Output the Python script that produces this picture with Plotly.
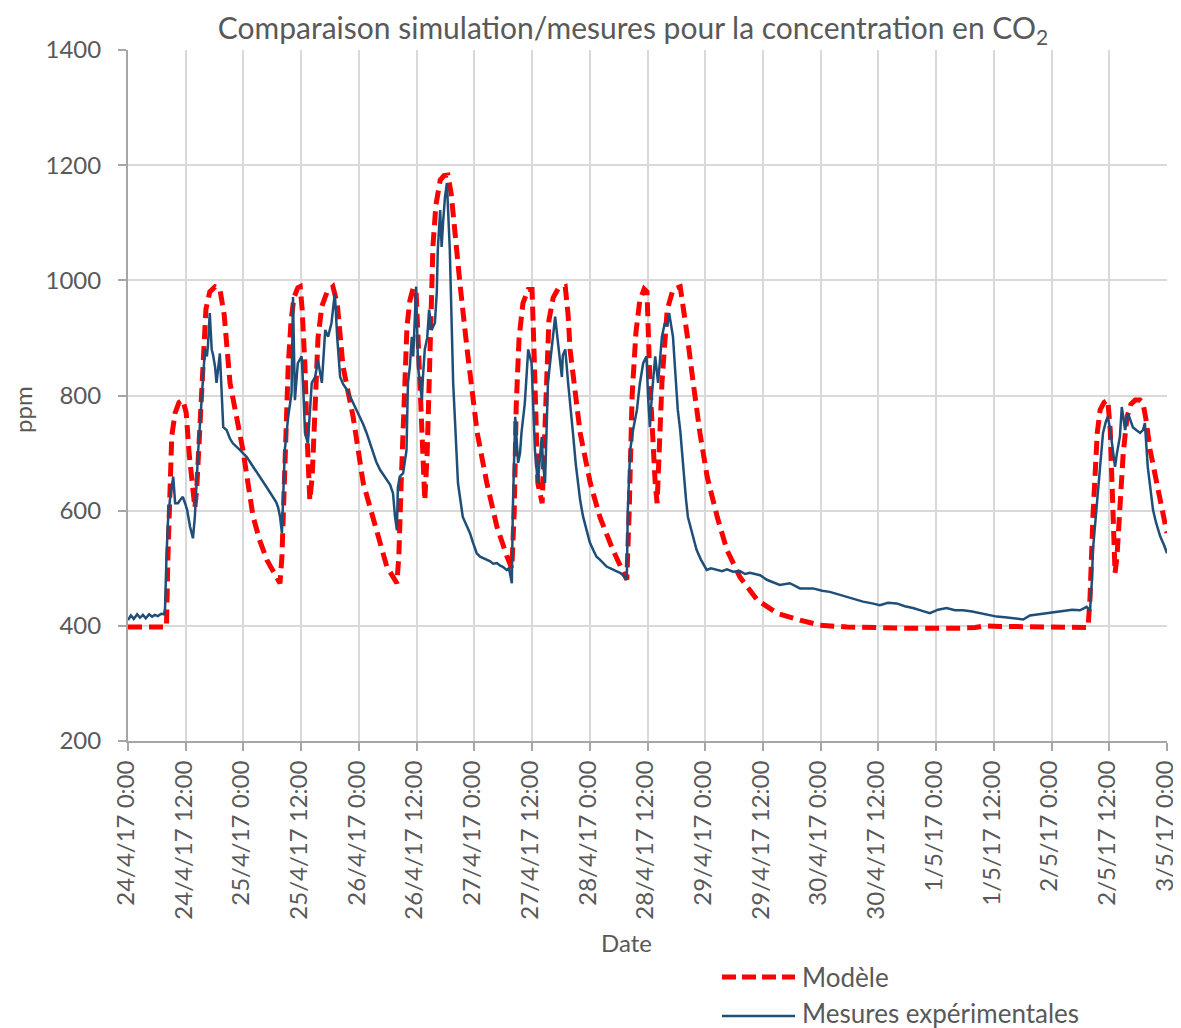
import pandas as pd
import plotly.graph_objects as go

# ---- data (hours since 24/4/17 0:00, ppm) ----
model_hours = [0, 7.9, 8.0, 8.3, 8.7, 9.1, 9.8, 10.6, 11.4, 12.1, 12.7, 13.3, 13.9, 14.3, 14.8, 15.2, 15.6, 16.2, 17.0,
               18.1, 19.1, 20.0, 21.2, 22.7, 23.9, 26.0, 27.4, 28.9, 30.6, 31.6, 32.0, 32.6, 33.3, 33.9, 34.5, 35.3,
               35.8, 36.2, 36.8, 37.2, 37.8, 38.3, 38.9, 39.5, 40.3, 41.4, 42.6, 43.5, 44.7, 46.8, 48.9, 51.8, 53.8,
               55.9, 56.3, 56.8, 57.4, 58.0, 58.6, 59.3, 59.9, 60.3, 60.7, 61.3, 61.7, 62.2, 62.8, 63.4, 64.0, 64.9,
               65.7, 66.5, 67.2, 67.6, 69.0, 70.5, 72.6, 74.6, 76.7, 78.8, 79.8, 80.3, 80.7, 81.3, 82.1, 83.2, 84.0,
               84.4, 84.8, 85.2, 86.1, 86.5, 86.9, 87.5, 88.4, 89.4, 90.9, 91.5, 91.9, 94.0, 96.1, 98.1, 100.8, 103.7,
               104.2, 104.8, 105.6, 106.4, 107.3, 107.9, 108.5, 109.1, 109.6, 110.0, 110.4, 111.0, 112.1, 113.3, 114.8,
               115.6, 116.2, 117.5, 118.9, 120.4, 122.5, 124.5, 127.2, 130.8, 134.9, 139.7, 143.9, 149.5, 160.5, 173.0,
               176.1, 178.2, 181.3, 191.7, 199.6, 200.0, 200.6, 201.5, 202.1, 202.9, 203.7, 204.2, 204.6, 204.8, 205.2,
               205.6, 206.2, 206.9, 207.7, 208.5, 209.4, 210.4, 211.0, 211.6, 212.5, 213.5, 214.6, 216.0]
model_ppm = [398, 398, 398, 520, 660, 730, 770, 788, 792, 770, 700, 640, 605, 640, 720, 800, 880, 950, 980,
             989, 985, 940, 822, 760, 705, 590, 548, 514, 490, 474, 520, 700, 850, 930, 970, 987,
             989, 950, 850, 735, 618, 660, 800, 900, 955, 980, 989, 960, 850, 763, 648, 561, 503,
             474, 520, 650, 800, 920, 965, 987, 980, 900, 800, 648, 618, 700, 900, 1060, 1130, 1174,
             1182, 1183, 1150, 1110, 995, 880, 735, 648, 572, 520, 500, 600, 780, 900, 960, 984, 984,
             880, 750, 648, 613, 720, 830, 930, 970, 985, 989, 940, 880, 735, 648, 589, 532, 480,
             600, 800, 910, 965, 985, 980, 822, 700, 648, 613, 700, 822, 949, 984, 989,
             950, 908, 822, 735, 659, 589, 532, 485, 445, 422, 410, 401, 398, 396, 396,
             397, 400, 399, 398, 397, 450, 589, 735, 775, 788, 792, 740, 648, 560, 492,
             520, 620, 700, 763, 785, 792, 792, 787, 760, 705, 660, 618, 561]

meas_hours = [0, 0.6, 1.2, 1.9, 2.5, 3.1, 3.7, 4.4, 5.0, 5.6, 6.2, 6.9, 7.5, 7.7, 8.0, 8.3, 8.7, 9.1, 9.4, 9.8,
              10.4, 10.8, 11.4, 11.9, 12.3, 12.9, 13.5, 13.9, 14.6, 15.3, 15.8, 16.0, 16.4, 16.6, 17.0, 17.4, 17.7,
              18.1, 18.4, 18.7, 19.1, 19.5, 19.8, 20.5, 21.2, 21.8, 22.5, 23.3, 23.9, 24.7, 25.4, 26.0, 26.6, 27.4,
              28.1, 28.8, 29.5, 30.1, 30.8, 31.2, 31.6, 32.0, 32.2, 32.6, 33.3, 34.0, 34.3, 34.7, 35.3, 36.1, 36.4,
              36.8, 37.4, 37.8, 38.2, 38.9, 39.5, 40.3, 41.0, 41.6, 42.3, 43.0, 43.5, 44.1, 44.7, 45.5, 46.2, 46.8,
              47.4, 48.2, 48.9, 49.6, 50.3, 50.9, 51.6, 52.4, 53.0, 53.8, 54.5, 55.1, 55.5, 55.9, 56.1, 56.5, 57.2,
              57.9, 58.2, 58.6, 59.0, 59.3, 59.6, 59.9, 60.3, 60.7, 61.1, 61.3, 61.7, 62.2, 62.6, 63.1, 63.8, 64.2,
              64.4, 64.9, 65.2, 65.5, 65.9, 66.3, 66.5, 66.9, 67.6, 68.2, 68.6, 69.6, 70.3, 71.1, 71.7, 72.5, 73.2,
              73.8, 74.6, 75.3, 75.9, 76.7, 77.3, 78.0, 78.7, 79.2, 79.8, 80.0, 80.5, 81.1, 81.5, 81.8, 82.5, 83.2,
              83.9, 84.2, 84.6, 85.2, 85.7, 86.0, 86.3, 86.7, 87.3, 88.1, 88.8, 89.4, 90.2, 90.4, 90.9, 91.5, 91.9,
              92.5, 93.1, 94.0, 94.6, 95.4, 96.0, 96.7, 97.4, 98.1, 98.8, 99.5, 100.2, 100.8, 101.5, 102.3, 102.9,
              103.7, 103.9, 104.4, 105.0, 105.8, 106.4, 107.1, 107.8, 108.1, 108.5, 108.9, 109.6, 110.2, 111.0, 111.6,
              112.1, 112.5, 112.9, 113.3, 113.7, 114.3, 114.8, 115.4, 116.0, 116.4, 117.3, 118.2, 119.1, 120.3, 121.2,
              122.4, 123.5, 124.5, 125.8, 127.2, 128.3, 129.3, 130.3, 131.4, 132.8, 133.9, 135.5, 137.6, 139.7, 142.4,
              144.3, 145.9, 147.6, 149.4, 151.1, 152.8, 154.7, 156.3, 158.0, 159.8, 161.5, 163.2, 165.1, 166.7, 168.4,
              170.2, 171.9, 173.6, 175.5, 177.1, 178.8, 180.6, 182.3, 184.0, 186.1, 187.5, 189.2, 191.0, 192.7, 194.4,
              196.3, 197.9, 199.3, 200.0, 200.4, 200.6, 201.5, 202.1, 202.7, 203.3, 203.7, 204.2, 204.6, 205.2, 205.6,
              206.2, 206.6, 207.3, 207.9, 208.3, 208.9, 209.6, 210.4, 211.0, 211.4, 212.0, 212.5, 213.1, 213.7, 214.6,
              215.4, 216.0]
meas_ppm = [410, 418, 412, 420, 414, 419, 413, 420, 416, 419, 417, 421, 420, 430, 520, 580, 618, 640, 659, 613,
            613, 618, 624, 612, 601, 572, 552, 589, 705, 792, 860, 880, 868, 885, 943, 880, 870,
            850, 822, 850, 873, 800, 745, 740, 725, 717, 712, 705, 700, 693, 684, 676, 670, 659,
            650, 641, 632, 624, 615, 606, 590, 561, 600, 705, 763, 804, 971, 792, 856, 868, 820,
            735, 717, 770, 822, 832, 861, 822, 914, 902, 926, 978, 900, 832, 820, 810, 798, 787,
            776, 763, 750, 735, 718, 700, 685, 671, 664, 653, 645, 630, 590, 566, 640, 659, 665,
            705, 822, 850, 902, 868, 920, 989, 850, 820, 792, 830, 880, 900, 949, 914, 926, 980,
            1053, 1122, 1058, 1100, 1145, 1169, 1130, 1053, 822, 700, 648, 589, 575, 561, 545, 526, 520,
            518, 514, 512, 508, 509, 505, 502, 497, 500, 474, 600, 763, 683, 700, 735, 787, 880,
            856, 780, 705, 648, 700, 728, 680, 648, 822, 880, 937, 891, 832, 870, 880, 822, 790,
            735, 680, 618, 590, 561, 545, 532, 520, 515, 508, 503, 500, 497, 495, 492, 488,
            480, 600, 705, 740, 775, 820, 856, 868, 800, 745, 800, 868, 822, 902, 926,
            920, 943, 920, 902, 850, 775, 740, 676, 620, 589, 560, 532, 515, 497, 500,
            497, 495, 498, 494, 495, 490, 492, 490, 488, 480, 476, 471, 474, 465, 465,
            461, 459, 455, 451, 447, 442, 439, 436, 440, 439, 434, 431, 426, 422, 428,
            431, 427, 427, 425, 422, 419, 416, 415, 413, 411, 418, 420, 422, 424, 427,
            428, 427, 433, 427, 480, 532, 618, 688, 735, 755, 763, 740, 717, 676, 700,
            728, 780, 740, 769, 760, 745, 740, 735, 740, 752, 676, 640, 601, 580, 555,
            540, 526]

tick_hours = [12 * i for i in range(19)]
tick_labels = ["24/4/17 0:00", "24/4/17 12:00", "25/4/17 0:00", "25/4/17 12:00", "26/4/17 0:00",
               "26/4/17 12:00", "27/4/17 0:00", "27/4/17 12:00", "28/4/17 0:00", "28/4/17 12:00",
               "29/4/17 0:00", "29/4/17 12:00", "30/4/17 0:00", "30/4/17 12:00", "1/5/17 0:00",
               "1/5/17 12:00", "2/5/17 0:00", "2/5/17 12:00", "3/5/17 0:00"]
y_ticks = [200, 400, 600, 800, 1000, 1200, 1400]

start = pd.Timestamp("2017-04-24 00:00")
to_dt = lambda hs: [start + pd.Timedelta(hours=h) for h in hs]

FONT = "Lato"
GREY = "#595959"
RED = "#FF0000"
BLUE = "#1F4E79"

fig = go.Figure()
fig.add_trace(go.Scatter(x=to_dt(model_hours), y=model_ppm, mode="lines", name="Modèle",
                         line=dict(color=RED, width=5, dash="14px,7px"), showlegend=False))
fig.add_trace(go.Scatter(x=to_dt(meas_hours), y=meas_ppm, mode="lines", name="Mesures expérimentales",
                         line=dict(color=BLUE, width=2.5), showlegend=False))

# page has an 8px body margin: figure is placed at (8, 8)
OFF = 8
W, H = 1181 - OFF, 1028 - OFF
PL, PR, PT, PB = 128, 1167, 50, 741          # plot area in page pixels
L, T = PL - OFF, PT - OFF
R, B = W - (PR - OFF), H - (PB - OFF)
pw, ph = PR - PL, PB - PT
px = lambda x: (x - PL) / pw
py = lambda y: (PB - y) / ph

fig.update_layout(
    width=W, height=H,
    margin=dict(l=L, r=R, t=T, b=B, autoexpand=False),
    paper_bgcolor="white", plot_bgcolor="white",
    font=dict(family=FONT, color=GREY, size=24),
    title=dict(text="Comparaison simulation/mesures pour la concentration en CO<sub>2</sub>",
               x=px(633), xref="paper", xanchor="center",
               y=1 - (28 - OFF) / H, yref="container", yanchor="middle",
               font=dict(family=FONT, size=30, color=GREY)),
    xaxis=dict(type="date", range=[start, start + pd.Timedelta(hours=216)],
               tickvals=to_dt(tick_hours), ticktext=tick_labels, tickangle=-90,
               tickfont=dict(size=24, color=GREY), automargin=False,
               showgrid=True, gridcolor="#d9d9d9", gridwidth=2,
               showline=True, linecolor="#a6a6a6", linewidth=2,
               ticks="outside", ticklen=8, tickcolor="#a6a6a6", tickwidth=2,
               ticklabelshift=-2, zeroline=False),
    yaxis=dict(range=[200, 1400], tickvals=y_ticks, automargin=False,
               tickfont=dict(size=24, color=GREY),
               showgrid=True, gridcolor="#d9d9d9", gridwidth=2,
               showline=True, linecolor="#a6a6a6", linewidth=2,
               ticks="outside", ticklen=8, tickcolor="#a6a6a6", tickwidth=2,
               ticklabelstandoff=12, zeroline=False),
    annotations=[
        dict(text="Date", x=px(626), y=py(942), xref="paper", yref="paper", showarrow=False,
             xanchor="center", yanchor="middle", font=dict(size=24, color=GREY)),
        dict(text="ppm", x=px(22), y=py(410), xref="paper", yref="paper", showarrow=False,
             textangle=-90, xanchor="center", yanchor="middle", font=dict(size=24, color=GREY)),
        dict(text="Modèle", x=px(800), y=py(977), xref="paper", yref="paper", showarrow=False,
             xanchor="left", yanchor="middle", font=dict(size=26, color=GREY)),
        dict(text="Mesures expérimentales", x=px(800), y=py(1013), xref="paper", yref="paper",
             showarrow=False, xanchor="left", yanchor="middle", font=dict(size=26, color=GREY)),
    ],
    shapes=[
        dict(type="line", xref="paper", yref="paper", x0=px(722), x1=px(795), y0=py(977), y1=py(977),
             line=dict(color=RED, width=5, dash="14px,6px")),
        dict(type="line", xref="paper", yref="paper", x0=px(722), x1=px(795), y0=py(1016), y1=py(1016),
             line=dict(color=BLUE, width=2.5)),
    ],
)

fig.write_html("out.html")
